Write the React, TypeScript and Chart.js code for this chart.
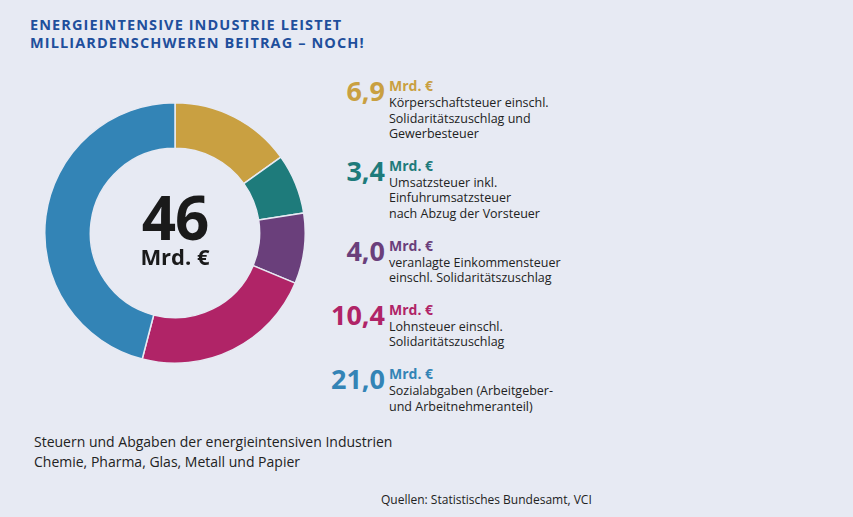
import React, { useEffect, useRef } from "react";
import { Chart, registerables } from "chart.js";

Chart.register(...registerables);

const values = [6.9, 3.4, 4.0, 10.4, 21.0];
const valueLabels = ["6,9", "3,4", "4,0", "10,4", "21,0"];
const unitLabel = "Mrd. €";
const descriptions = [
  ["Körperschaftsteuer einschl.", "Solidaritätszuschlag und", "Gewerbesteuer"],
  ["Umsatzsteuer inkl.", "Einfuhrumsatzsteuer", "nach Abzug der Vorsteuer"],
  ["veranlagte Einkommensteuer", "einschl. Solidaritätszuschlag"],
  ["Lohnsteuer einschl.", "Solidaritätszuschlag"],
  ["Sozialabgaben (Arbeitgeber-", "und Arbeitnehmeranteil)"],
];
const colors = ["#c9a041", "#1e7b7b", "#6a3f7b", "#b02467", "#3384b6"];
const totalLabel = "46";
const titleLines = ["ENERGIEINTENSIVE INDUSTRIE LEISTET", "MILLIARDENSCHWEREN BEITRAG – NOCH!"];
const footnoteLines = [
  "Steuern und Abgaben der energieintensiven Industrien",
  "Chemie, Pharma, Glas, Metall und Papier",
];
const sourceLabel = "Quellen: Statistisches Bundesamt, VCI";

const FONT = "'Open Sans', 'Noto Sans', sans-serif";
const BG = "#e7eaf3";

export default function App() {
  const canvasRef = useRef<HTMLCanvasElement | null>(null);

  useEffect(() => {
    document.body.style.margin = "0";
    const ctx = canvasRef.current!;
    const chart = new Chart(ctx, {
      type: "doughnut",
      data: {
        labels: descriptions.map((d) => d.join(" ")),
        datasets: [
          {
            data: values,
            backgroundColor: colors,
            borderColor: BG,
            borderWidth: 1.5,
          },
        ],
      },
      options: {
        responsive: false,
        animation: false,
        cutout: "65%",
        layout: { padding: 0 },
        plugins: { legend: { display: false }, tooltip: { enabled: false } },
      },
    });
    return () => chart.destroy();
  }, []);

  return (
    <div
      style={{
        position: "relative",
        width: 853,
        height: 517,
        background: BG,
        fontFamily: FONT,
        overflow: "hidden",
      }}
    >
      <div
        style={{
          position: "absolute",
          left: 30,
          top: 16,
          color: "#1f4f9c",
          fontWeight: 700,
          fontSize: 14.5,
          letterSpacing: 1.1,
          lineHeight: "18px",
        }}
      >
        {titleLines.map((t, i) => (
          <div key={i}>{t}</div>
        ))}
      </div>

      <canvas
        ref={canvasRef}
        width={262}
        height={262}
        style={{ position: "absolute", left: 44, top: 102, width: 262, height: 262 }}
      />
      <div
        style={{
          position: "absolute",
          left: 95,
          width: 160,
          top: 190,
          textAlign: "center",
          color: "#1a1a1a",
          fontWeight: 700,
        }}
      >
        <div style={{ fontSize: 60, lineHeight: "54px", letterSpacing: -1 }}>{totalLabel}</div>
        <div style={{ fontSize: 22, lineHeight: "24px" }}>{unitLabel}</div>
      </div>

      <div style={{ position: "absolute", left: 320, top: 77 }}>
        {values.map((_, i) => (
          <div key={i} style={{ display: "flex", marginBottom: 15 }}>
            <div
              style={{
                width: 65,
                textAlign: "right",
                color: colors[i],
                fontWeight: 700,
                fontSize: 27,
                lineHeight: "28px",
                marginTop: 0,
                marginRight: 4,
              }}
            >
              {valueLabels[i]}
            </div>
            <div>
              <div
                style={{
                  color: colors[i],
                  fontWeight: 700,
                  fontSize: 14,
                  lineHeight: "18px",
                }}
              >
                {unitLabel}
              </div>
              {descriptions[i].map((line, j) => (
                <div key={j} style={{ color: "#222", fontSize: 12.5, lineHeight: "15.6px" }}>
                  {line}
                </div>
              ))}
            </div>
          </div>
        ))}
      </div>

      <div
        style={{
          position: "absolute",
          left: 34,
          top: 432,
          color: "#222",
          fontSize: 14,
          lineHeight: "19.5px",
        }}
      >
        {footnoteLines.map((t, i) => (
          <div key={i}>{t}</div>
        ))}
      </div>
      <div
        style={{
          position: "absolute",
          left: 381,
          top: 492,
          color: "#222",
          fontSize: 12,
          lineHeight: "16px",
        }}
      >
        {sourceLabel}
      </div>
    </div>
  );
}
